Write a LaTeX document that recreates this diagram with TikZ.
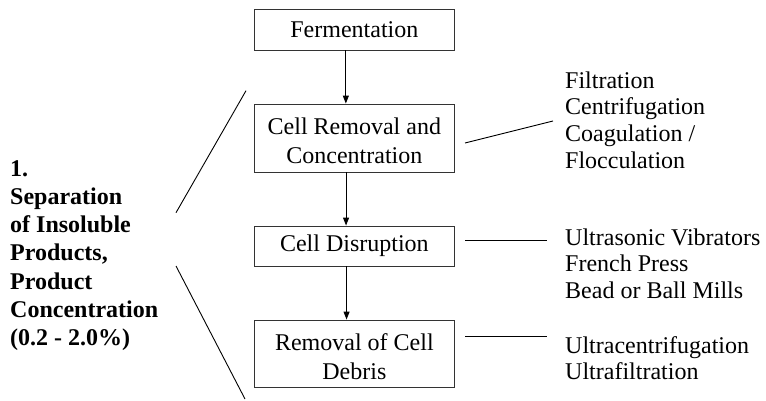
\documentclass[tikz,border=0pt]{standalone}
\usepackage{fontspec}
\setmainfont{Liberation Serif}
\usetikzlibrary{arrows.meta}
% strut that lowers two-line box texts a little inside their frames
\newcommand{\lowstrut}{\rule{0pt}{22.5pt}}
\begin{document}
\begin{tikzpicture}[x=1pt,y=-1pt,
  stagebox/.style={draw=black!80, line width=0.9pt, minimum width=199.3pt,
    inner sep=0pt, align=center, font=\fontsize{24}{29}\selectfont},
  flow/.style={line width=0.9pt, -{Triangle[length=8pt,width=6pt]}},
  thin/.style={line width=0.9pt},
  method/.style={anchor=base west, inner sep=0pt, align=left,
    font=\fontsize{24}{26.7}\selectfont}]
\useasboundingbox (0,0) rectangle (766,400);

% process stages
\node[stagebox, minimum height=40.7pt] (ferm) at (354.35,29.65) {Fermentation};
\node[stagebox, minimum height=68pt] (removal) at (354.35,138) {\lowstrut Cell Removal and\\Concentration};
\node[stagebox, minimum height=40pt] (disrupt) at (354.35,246) {Cell Disruption};
\node[stagebox, minimum height=67pt] (debris) at (354.35,353.5) {\lowstrut Removal of Cell\\Debris};

\draw[flow] ([xshift=-8.5pt]ferm.south) -- ([xshift=-8.5pt]removal.north);
\draw[flow] ([xshift=-8.3pt]removal.south) -- ([xshift=-8.3pt]disrupt.north);
\draw[flow] ([xshift=-7.8pt]disrupt.south) -- ([xshift=-7.8pt]debris.north);

% stage group label (anchored at its last baseline) and its bracket lines
\node[anchor=base west, inner sep=0pt, align=left,
  font=\bfseries\fontsize{24}{28.3}\selectfont] (group) at (10,345.8)
  {1.\\Separation\\of Insoluble\\Products,\\Product\\Concentration\\(0.2 - 2.0\%)};
\coordinate (upA) at (176,212.7);
\coordinate (upB) at (246,90.7);
\coordinate (loA) at (176,266);
\coordinate (loB) at (245,399);
\draw[thin] (upA) -- (upB);
\draw[thin] (loA) -- (loB);

% methods for each stage (anchored at their last baselines)
\node[method] (m1) at (565,168.1) {Filtration\\Centrifugation\\Coagulation /\\Flocculation};
\node[method] (m2) at (565,298.4) {Ultrasonic Vibrators\\French Press\\Bead or Ball Mills};
\node[method] (m3) at (565,379.7) {Ultracentrifugation\\Ultrafiltration};

\coordinate (c1a) at (465,143);
\coordinate (c1b) at (553,121);
\coordinate (c2a) at (465,240);
\coordinate (c2b) at (547,240);
\coordinate (c3a) at (465,336);
\coordinate (c3b) at (547,336);
\draw[thin] (c1a) -- (c1b);
\draw[thin] (c2a) -- (c2b);
\draw[thin] (c3a) -- (c3b);
\end{tikzpicture}
\end{document}
